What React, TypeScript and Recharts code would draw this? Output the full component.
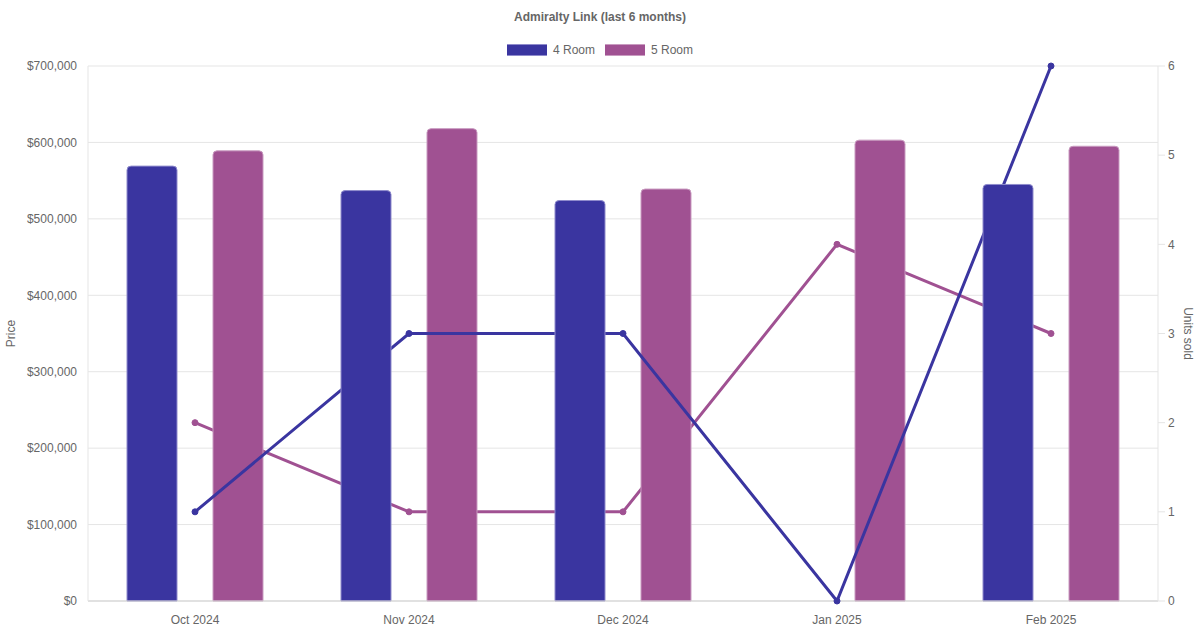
import React from 'react';
import {
  ComposedChart,
  Bar,
  Line,
  XAxis,
  YAxis,
  CartesianGrid,
} from 'recharts';

const months = ['Oct 2024', 'Nov 2024', 'Dec 2024', 'Jan 2025', 'Feb 2025'];
const price4Room = [569000, 537000, 524000, null, 545000];
const price5Room = [589000, 618000, 539000, 603000, 595000];
const units4Room = [1, 3, 3, 0, 6];
const units5Room = [2, 1, 1, 4, 3];
const priceTicks = [0, 100000, 200000, 300000, 400000, 500000, 600000, 700000];
const unitTicks = [0, 1, 2, 3, 4, 5, 6];

const TITLE = 'Admiralty Link (last 6 months)';
const SERIES = [
  { name: '4 Room', color: '#3a35a0', border: '#8f8bcc' },
  { name: '5 Room', color: '#a05192', border: '#c99bc0' },
];

const data = months.map((m, i) => ({
  month: m,
  p4: price4Room[i],
  p5: price5Room[i],
  u4: units4Room[i],
  u5: units5Room[i],
}));

const FONT = "'Liberation Sans', Arial, Helvetica, sans-serif";
const TEXT = '#666666';
const GRID = '#e5e5e5';

const fmtPrice = (v: number) => '$' + v.toLocaleString('en-US');

export default function App() {
  return (
    <div
      style={{
        position: 'absolute',
        top: 0,
        left: 0,
        width: 1200,
        height: 630,
        background: '#ffffff',
        fontFamily: FONT,
      }}
    >
      <div
        style={{
          position: 'absolute',
          top: 10,
          left: 0,
          width: 1200,
          textAlign: 'center',
          fontSize: 12,
          fontWeight: 'bold',
          color: TEXT,
          lineHeight: '14px',
        }}
      >
        {TITLE}
      </div>
      <div
        style={{
          position: 'absolute',
          top: 43,
          left: 0,
          width: 1200,
          display: 'flex',
          justifyContent: 'center',
          alignItems: 'center',
          fontSize: 12,
          color: TEXT,
          lineHeight: '14px',
        }}
      >
        {SERIES.map((s, i) => (
          <div
            key={s.name}
            style={{ display: 'flex', alignItems: 'center', marginLeft: i === 0 ? 0 : 10 }}
          >
            <div
              style={{
                width: 40,
                height: 12,
                background: s.color,
                boxSizing: 'border-box',
                borderTop: `1px solid ${s.border}`,
                borderBottom: `1px solid ${s.border}`,
                marginRight: 6,
              }}
            />
            <span>{s.name}</span>
          </div>
        ))}
      </div>
      <ComposedChart
        width={1200}
        height={630}
        data={data}
        margin={{ top: 66, right: 0, left: 0, bottom: 0 }}
        barSize={50}
        barGap={36}
        style={{ fontFamily: FONT }}
      >
        <CartesianGrid yAxisId="left" vertical={false} stroke={GRID} />
        <XAxis
          dataKey="month"
          height={29}
          tickLine={false}
          tickSize={6}
          tickMargin={8}
          axisLine={{ stroke: '#d0d0d0' }}
          tick={{ fill: TEXT, fontSize: 12, fontFamily: FONT }}
        />
        <YAxis
          yAxisId="left"
          orientation="left"
          width={88}
          domain={[0, 700000]}
          ticks={priceTicks}
          tickFormatter={fmtPrice}
          tickLine={false}
          tickSize={6}
          tickMargin={5}
          axisLine={{ stroke: GRID }}
          tick={{ fill: TEXT, fontSize: 12, fontFamily: FONT }}
          label={{
            content: (p: any) => {
              const vb = p.viewBox || { x: 0, y: 66, width: 88, height: 535 };
              const x = vb.x + 15;
              const y = vb.y + vb.height / 2;
              return (
                <text
                  x={x}
                  y={y}
                  transform={`rotate(-90, ${x}, ${y})`}
                  textAnchor="middle"
                  fill={TEXT}
                  fontSize={12}
                  fontFamily={FONT}
                >
                  Price
                </text>
              );
            },
          }}
        />
        <YAxis
          yAxisId="right"
          orientation="right"
          width={42}
          domain={[0, 6]}
          ticks={unitTicks}
          tickLine={{ stroke: GRID }}
          tickSize={7}
          tickMargin={3}
          axisLine={{ stroke: GRID }}
          tick={{ fill: TEXT, fontSize: 12, fontFamily: FONT }}
          label={{
            content: (p: any) => {
              const vb = p.viewBox || { x: 1158, y: 66, width: 42, height: 535 };
              const x = vb.x + 26;
              const y = vb.y + vb.height / 2;
              return (
                <text
                  x={x}
                  y={y}
                  transform={`rotate(90, ${x}, ${y})`}
                  textAnchor="middle"
                  fill={TEXT}
                  fontSize={12}
                  fontFamily={FONT}
                >
                  Units sold
                </text>
              );
            },
          }}
        />
        <Bar
          yAxisId="left"
          dataKey="p4"
          name="4 Room"
          fill={SERIES[0].color}
          stroke={SERIES[0].border}
          strokeWidth={1}
          radius={[4, 4, 0, 0]}
          isAnimationActive={false}
          zIndex={400}
        />
        <Bar
          yAxisId="left"
          dataKey="p5"
          name="5 Room"
          fill={SERIES[1].color}
          stroke={SERIES[1].border}
          strokeWidth={1}
          radius={[4, 4, 0, 0]}
          isAnimationActive={false}
          zIndex={200}
        />
        <Line
          yAxisId="right"
          dataKey="u5"
          name="5 Room units"
          type="linear"
          stroke={SERIES[1].color}
          strokeWidth={3}
          dot={{ r: 3, fill: SERIES[1].color, stroke: SERIES[1].color, strokeWidth: 1 }}
          activeDot={false}
          isAnimationActive={false}
          zIndex={100}
        />
        <Line
          yAxisId="right"
          dataKey="u4"
          name="4 Room units"
          type="linear"
          stroke={SERIES[0].color}
          strokeWidth={3}
          dot={{ r: 3, fill: SERIES[0].color, stroke: SERIES[0].color, strokeWidth: 1 }}
          activeDot={false}
          isAnimationActive={false}
          zIndex={300}
        />
      </ComposedChart>
    </div>
  );
}
